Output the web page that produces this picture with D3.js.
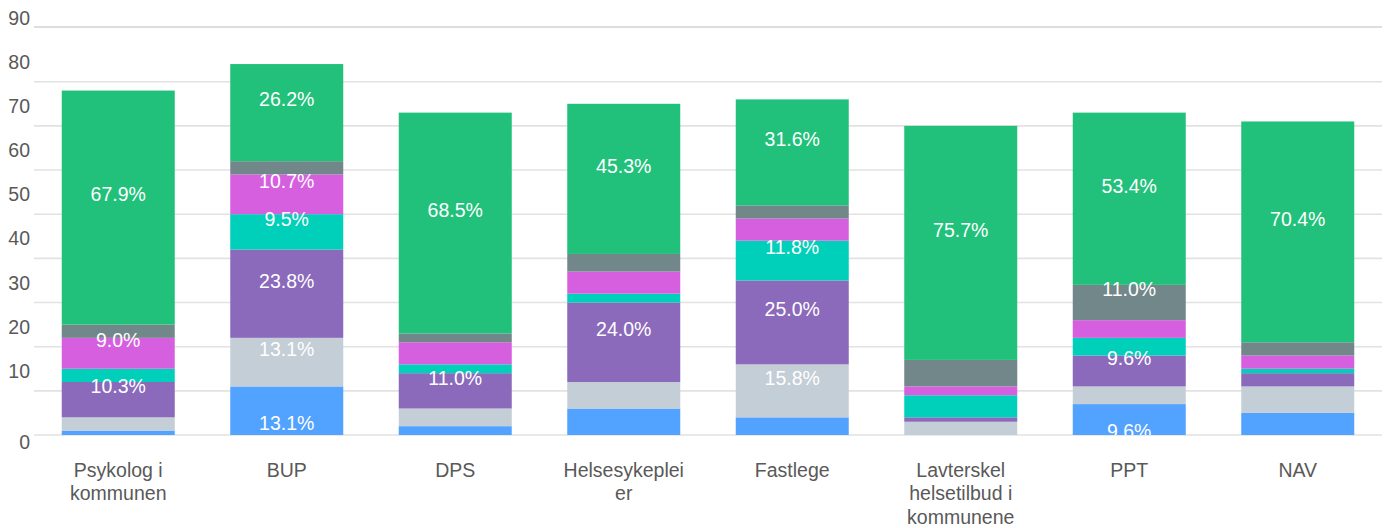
<!DOCTYPE html>
<html>
<head>
<meta charset="utf-8">
<script src="https://cdn.jsdelivr.net/npm/d3@7"></script>
<style>
  html, body { margin: 0; padding: 0; background: #ffffff; }
  svg { display: block; font-family: "Liberation Sans", Arial, sans-serif; }
</style>
</head>
<body>
<svg id="chart" width="1394" height="528"></svg>
<script>
// ---- data (counts per category, stacked bottom -> top) ----
const categories = ["Psykolog i\nkommunen", "BUP", "DPS", "Helsesykeplei\ner", "Fastlege", "Lavterskel\nhelsetilbud i\nkommunene", "PPT", "NAV"];
const seriesKeys = ["s1", "s2", "s3", "s4", "s5", "s6", "s7"];
const s1 = [1, 11, 2, 6, 4, 0, 7, 5];      // blue
const s2 = [3, 11, 4, 6, 12, 3, 4, 6];     // light gray
const s3 = [8, 20, 8, 18, 19, 1, 7, 3];    // purple
const s4 = [3, 8, 2, 2, 9, 5, 4, 1];       // teal
const s5 = [7, 9, 5, 5, 5, 2, 4, 3];       // magenta
const s6 = [3, 3, 2, 4, 3, 6, 8, 3];       // dark gray
const s7 = [53, 22, 50, 34, 24, 53, 39, 50]; // green
const yTicks = [0, 10, 20, 30, 40, 50, 60, 70, 80, 90];
const colors = ["#52a2ff", "#c4ced6", "#8b69bb", "#00cfb9", "#d65fe0", "#72878a", "#22c17b"];

const seriesValues = [s1, s2, s3, s4, s5, s6, s7];
const table = categories.map((c, i) => {
  const row = { category: c };
  seriesKeys.forEach((k, j) => row[k] = seriesValues[j][i]);
  row.total = d3.sum(seriesValues, s => s[i]);
  return row;
});

const svg = d3.select("#chart");
const W = 1394, H = 528;
const plot = { left: 34, right: 1382, top: 27, bottom: 435 };

const x = d3.scaleBand()
  .domain(categories)
  .range([plot.left, plot.right])
  .paddingInner(0.3294)
  .paddingOuter(0.1647);

const y = d3.scaleLinear()
  .domain([0, 90])
  .range([plot.bottom, plot.bottom - 90 * 4.416]);

// gridlines
const grid = svg.append("g");
grid.selectAll("line.g")
  .data(yTicks.filter(t => t < 90))
  .join("line")
  .attr("x1", plot.left).attr("x2", plot.right)
  .attr("y1", d => y(d)).attr("y2", d => y(d))
  .attr("stroke", "#e2e2e2").attr("stroke-width", 1.6);
grid.append("line")
  .attr("x1", plot.left).attr("x2", plot.right)
  .attr("y1", plot.top).attr("y2", plot.top)
  .attr("stroke", "#d2d2d2").attr("stroke-width", 1.6);

// y axis labels
const yAxis = svg.append("g")
  .attr("transform", `translate(30,0)`)
  .call(d3.axisLeft(y).tickValues(yTicks).tickSize(0).tickPadding(0));
yAxis.select(".domain").remove();
yAxis.selectAll("text")
  .attr("fill", "#595959")
  .style("font-size", "19.5px")
  .style("font-family", "'Liberation Sans', Arial, sans-serif")
  .attr("x", 0)
  .attr("dy", "0.35em")
  .attr("y", d => d === 0 ? 7 : -20.3);

// stacked bars
const stack = d3.stack().keys(seriesKeys);
const layers = stack(table);

const barsG = svg.append("g");
layers.forEach((layer, li) => {
  barsG.append("g")
    .attr("fill", colors[li])
    .selectAll("rect")
    .data(layer)
    .join("rect")
    .attr("x", d => x(d.data.category))
    .attr("width", x.bandwidth())
    .attr("y", d => y(d[1]))
    .attr("height", d => Math.max(0, y(d[0]) - y(d[1])));
});

// data labels (percent of bar total), clipped at baseline
svg.append("clipPath").attr("id", "clip")
  .append("rect")
  .attr("x", 0).attr("y", 0)
  .attr("width", W).attr("height", plot.bottom);

const labelsG = svg.append("g").attr("clip-path", "url(#clip)");
layers.forEach((layer, li) => {
  labelsG.selectAll(null)
    .data(layer.filter(d => (d[1] - d[0]) / d.data.total >= 0.089))
    .join("text")
    .attr("x", d => x(d.data.category) + x.bandwidth() / 2)
    .attr("y", d => (y(d[0]) + y(d[1])) / 2 + (li === 0 ? 12 : -13))
    .attr("dy", "0.35em")
    .attr("text-anchor", "middle")
    .attr("fill", "#ffffff")
    .style("font-size", "19.5px")
    .text(d => d3.format(".1%")((d[1] - d[0]) / d.data.total));
});

// x axis labels
const xAxis = svg.append("g")
  .attr("transform", `translate(0,${plot.bottom})`)
  .call(d3.axisBottom(x).tickSize(0).tickPadding(0));
xAxis.select(".domain").remove();
xAxis.selectAll(".tick text").each(function(d) {
  const t = d3.select(this);
  t.text(null)
    .attr("y", 0)
    .attr("dy", null)
    .attr("fill", "#595959")
    .style("font-size", "19.5px")
    .style("font-family", "'Liberation Sans', Arial, sans-serif");
  d.split("\n").forEach((line, i) => {
    t.append("tspan")
      .attr("x", 0)
      .attr("y", 35 + i * 23.5)
      .attr("dy", "0.35em")
      .text(line);
  });
});
</script>
</body>
</html>
